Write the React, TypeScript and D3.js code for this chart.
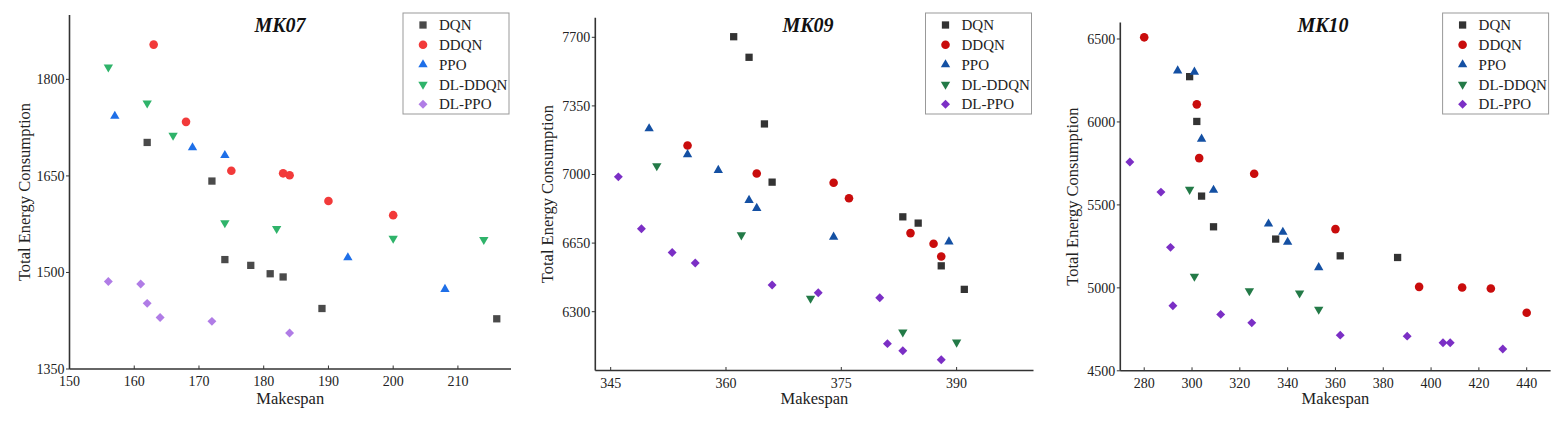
import React from "react";
import * as d3 from "d3";

const seriesNames = ["DQN", "DDQN", "PPO", "DL-DDQN", "DL-PPO"];

// MK07
const mk07DQN = [[162, 1702], [172, 1642], [174, 1520], [178, 1511], [181, 1498], [183, 1493], [189, 1444], [216, 1428]];
const mk07DDQN = [[163, 1854], [168, 1734], [175, 1658], [183, 1654], [184, 1651], [190, 1611], [200, 1589]];
const mk07PPO = [[157, 1743], [169, 1694], [174, 1682], [193, 1523], [208, 1474]];
const mk07DLDDQN = [[156, 1819], [162, 1763], [166, 1713], [174, 1577], [182, 1568], [200, 1553], [214, 1551]];
const mk07DLPPO = [[156, 1486], [161, 1482], [162, 1452], [164, 1430], [172, 1424], [184, 1406]];
const mk07XTicks = [150, 160, 170, 180, 190, 200, 210];
const mk07YTicks = [1350, 1500, 1650, 1800];

// MK09
const mk09DQN = [[361, 7703], [363, 7598], [365, 7258], [366, 6961], [383, 6784], [385, 6752], [388, 6534], [391, 6414]];
const mk09DDQN = [[355, 7148], [364, 7005], [374, 6958], [376, 6879], [384, 6701], [387, 6647], [388, 6582]];
const mk09PPO = [[350, 7234], [355, 7102], [359, 7022], [363, 6869], [364, 6828], [374, 6681], [389, 6657]];
const mk09DLDDQN = [[351, 7044], [362, 6691], [371, 6368], [383, 6196], [390, 6144]];
const mk09DLPPO = [[346, 6988], [349, 6723], [353, 6602], [356, 6548], [366, 6436], [372, 6397], [380, 6371], [381, 6137], [383, 6101], [388, 6055]];
const mk09XTicks = [345, 360, 375, 390];
const mk09YTicks = [6300, 6650, 7000, 7350, 7700];

// MK10
const mk10DQN = [[299, 6273], [302, 6003], [304, 5553], [309, 5368], [335, 5294], [362, 5193], [386, 5183]];
const mk10DDQN = [[280, 6510], [302, 6106], [303, 5782], [326, 5688], [360, 5354], [395, 5006], [413, 5002], [425, 4996], [440, 4850]];
const mk10PPO = [[294, 6309], [301, 6301], [304, 5897], [309, 5589], [332, 5386], [338, 5336], [340, 5276], [353, 5123]];
const mk10DLDDQN = [[299, 5593], [301, 5069], [324, 4982], [345, 4968], [353, 4870]];
const mk10DLPPO = [[274, 5758], [287, 5577], [291, 5244], [292, 4892], [312, 4840], [325, 4789], [362, 4715], [390, 4709], [405, 4669], [408, 4669], [430, 4631]];
const mk10XTicks = [280, 300, 320, 340, 360, 380, 400, 420, 440];
const mk10YTicks = [4500, 5000, 5500, 6000, 6500];

const lightColors = ["#4a4a4a", "#f23a3a", "#1e6fe8", "#2fb36a", "#b07ce6"];
const darkColors = ["#333333", "#c90c0c", "#1450a3", "#237a47", "#7b2fc5"];

const FONT = "'Liberation Serif', 'Times New Roman', serif";

type Panel = {
  title: string;
  series: number[][][];
  xDomain: [number, number];
  yDomain: [number, number];
  xTicks: number[];
  yTicks: number[];
  colors: string[];
  left: number;
  right: number;
  top: number;
  bottom: number;
  titleX: number;
  yLabelOffset: number;
};

const panels: Panel[] = [
  {
    title: "MK07",
    series: [mk07DQN, mk07DDQN, mk07PPO, mk07DLDDQN, mk07DLPPO],
    xDomain: [150, 218.2],
    yDomain: [1350, 1900],
    xTicks: mk07XTicks,
    yTicks: mk07YTicks,
    colors: lightColors,
    left: 69.5,
    right: 511,
    top: 15,
    bottom: 369,
    titleX: 280,
    yLabelOffset: 40,
  },
  {
    title: "MK09",
    series: [mk09DQN, mk09DDQN, mk09PPO, mk09DLDDQN, mk09DLPPO],
    xDomain: [343, 400],
    yDomain: [6000, 7800],
    xTicks: mk09XTicks,
    yTicks: mk09YTicks,
    colors: darkColors,
    left: 595.3,
    right: 1033.5,
    top: 17.7,
    bottom: 370.5,
    titleX: 808,
    yLabelOffset: 42,
  },
  {
    title: "MK10",
    series: [mk10DQN, mk10DDQN, mk10PPO, mk10DLDDQN, mk10DLPPO],
    xDomain: [270, 450],
    yDomain: [4500, 6600],
    xTicks: mk10XTicks,
    yTicks: mk10YTicks,
    colors: darkColors,
    left: 1120.3,
    right: 1550.6,
    top: 22.4,
    bottom: 370.8,
    titleX: 1323,
    yLabelOffset: 42,
  },
];

const symSquare = d3.symbol().type(d3.symbolSquare).size(53)() as string;
const symCircle = d3.symbol().type(d3.symbolCircle).size(58)() as string;
const symTri = d3.symbol().type(d3.symbolTriangle).size(38)() as string;
const symDiamond = d3.symbol().type(d3.symbolSquare).size(40)() as string;

function Marker({ kind, x, y, color }: { kind: number; x: number; y: number; color: string }) {
  if (kind === 0) return <path d={symSquare} transform={`translate(${x},${y})`} fill={color} />;
  if (kind === 1) return <path d={symCircle} transform={`translate(${x},${y})`} fill={color} />;
  if (kind === 2) return <path d={symTri} transform={`translate(${x},${y})`} fill={color} />;
  if (kind === 3) return <path d={symTri} transform={`translate(${x},${y}) rotate(180)`} fill={color} />;
  return <path d={symDiamond} transform={`translate(${x},${y}) rotate(45)`} fill={color} />;
}

function PanelView({ p }: { p: Panel }) {
  const xs = d3.scaleLinear().domain(p.xDomain).range([p.left, p.right]);
  const ys = d3.scaleLinear().domain(p.yDomain).range([p.bottom, p.top]);
  const axisColor = "#333";
  const legW = 106;
  const legH = 101;
  const legX = p.right - 108;
  const legY = 13;
  return (
    <g>
      {/* points */}
      {p.series.map((pts, si) =>
        pts.map((d, i) => (
          <Marker key={`${si}-${i}`} kind={si} x={xs(d[0])} y={ys(d[1])} color={p.colors[si]} />
        ))
      )}
      {/* axes */}
      <line x1={p.left} x2={p.left} y1={p.top} y2={p.bottom} stroke={axisColor} strokeWidth={1.6} />
      <line x1={p.left} x2={p.right} y1={p.bottom} y2={p.bottom} stroke={axisColor} strokeWidth={1.6} />
      {p.yTicks.map((t) => (
        <g key={`y${t}`}>
          <line x1={p.left - 3.5} x2={p.left} y1={ys(t)} y2={ys(t)} stroke={axisColor} strokeWidth={1} />
          <text x={p.left - 5} y={ys(t)} dy="0.35em" textAnchor="end" fontSize={14} fill="#222" fontFamily={FONT}>
            {t}
          </text>
        </g>
      ))}
      {p.xTicks.map((t) => (
        <g key={`x${t}`}>
          <line x1={xs(t)} x2={xs(t)} y1={p.bottom} y2={p.bottom - 3.5} stroke={axisColor} strokeWidth={1} />
          <text x={xs(t)} y={p.bottom + 17} textAnchor="middle" fontSize={14} fill="#222" fontFamily={FONT}>
            {t}
          </text>
        </g>
      ))}
      <text x={(p.left + p.right) / 2} y={404} textAnchor="middle" fontSize={16.5} fill="#222" fontFamily={FONT}>
        Makespan
      </text>
      <text
        transform={`translate(${p.left - p.yLabelOffset},${(p.top + p.bottom) / 2}) rotate(-90)`}
        textAnchor="middle"
        fontSize={16.5}
        fill="#222"
        fontFamily={FONT}
      >
        Total Energy Consumption
      </text>
      <text x={p.titleX} y={32} textAnchor="middle" fontSize={20} fontWeight="bold" fontStyle="italic" fill="#111" fontFamily={FONT}>
        {p.title}
      </text>
      {/* legend */}
      <rect x={legX} y={legY} width={legW} height={legH} fill="#fff" stroke="#999" strokeWidth={1} />
      {seriesNames.map((n, i) => {
        const cy = legY + 12 + i * 19.8;
        return (
          <g key={n}>
            <Marker kind={i} x={legX + 20} y={cy} color={p.colors[i]} />
            <text x={legX + 36} y={cy} dy="0.35em" fontSize={15} fill="#222" fontFamily={FONT}>
              {n}
            </text>
          </g>
        );
      })}
    </g>
  );
}

export default function App() {
  return (
    <svg
      width={1565}
      height={421}
      style={{ position: "absolute", left: 0, top: 0, background: "#fff" }}
    >
      <rect width={1565} height={421} fill="#fff" />
      {panels.map((p) => (
        <PanelView key={p.title} p={p} />
      ))}
    </svg>
  );
}
